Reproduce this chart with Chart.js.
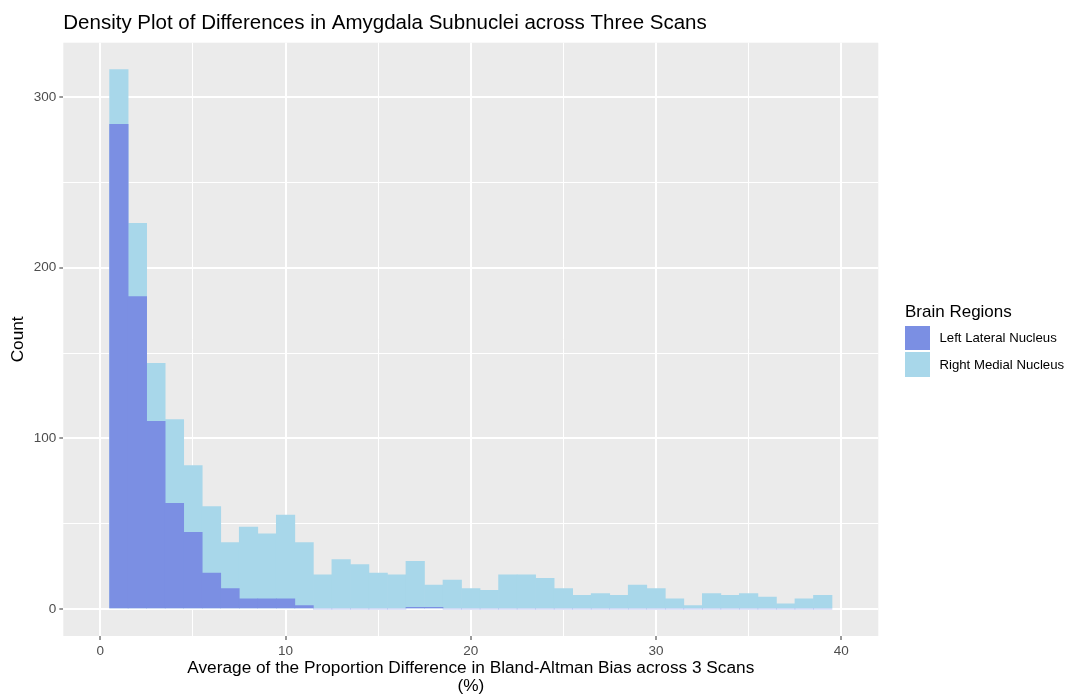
<!DOCTYPE html>
<html lang="en">
<head>
    <meta charset="UTF-8">
    <title>Density Plot of Differences in Amygdala Subnuclei across Three Scans</title>
    <script src="https://cdn.jsdelivr.net/npm/chart.js"></script>
    <style>
        body {
            margin: 0;
            background: #ffffff;
            font-family: 'Liberation Sans', Arial, Helvetica, sans-serif;
        }
        #wrap {
            position: relative;
            width: 1069px;
            height: 695px;
        }
        #legend {
            position: absolute;
            left: 905px;
            top: 301.5px;
            color: #000000;
        }
        #legend .title {
            font-size: 17px;
            line-height: 20px;
            height: 20px;
            margin-bottom: 4.2px;
        }
        #legend .item {
            display: flex;
            align-items: center;
            height: 24.5px;
            margin-bottom: 2px;
            font-size: 13.2px;
        }
        #legend .swatch {
            width: 24.5px;
            height: 24.5px;
            margin-right: 10px;
        }
    </style>
</head>
<body>
    <div id="wrap">
        <canvas id="histChart" width="1069" height="695"></canvas>
        <div id="legend"></div>
    </div>

    <script>
        // bins are 1 unit wide, centred on whole numbers
        const binCenters = [1, 2, 3, 4, 5, 6, 7, 8, 9, 10, 11, 12, 13, 14, 15, 16, 17, 18, 19, 20,
                            21, 22, 23, 24, 25, 26, 27, 28, 29, 30, 31, 32, 33, 34, 35, 36, 37, 38, 39];
        const leftLateral = [284, 183, 110, 62, 45, 21, 12, 6, 6, 6, 2, 0, 0, 0, 0, 0, 1, 1, 0, 0,
                             0, 0, 0, 0, 0, 0, 0, 0, 0, 0, 0, 0, 0, 0, 0, 0, 0, 0, 0];
        const rightMedial = [316, 226, 144, 111, 84, 60, 39, 48, 44, 55, 39, 20, 29, 26, 21, 20, 28, 14, 17, 12,
                             11, 20, 20, 18, 12, 8, 9, 8, 14, 12, 6, 2, 9, 8, 9, 7, 3, 6, 8];
        const seriesNames = ['Left Lateral Nucleus', 'Right Medial Nucleus'];
        const seriesColors = ['#7b8fe3', '#a8d7ea'];
        // grid lines (major + minor) and the labelled majors
        const xGrid = [0, 5, 10, 15, 20, 25, 30, 35, 40];
        const xTickLabels = [0, 10, 20, 30, 40];
        const yGrid = [0, 50, 100, 150, 200, 250, 300];
        const yTickLabels = [0, 100, 200, 300];

        const FONT = "'Liberation Sans', Arial, Helvetica, sans-serif";
        const toPoints = values => binCenters.map((x, i) => ({ x: x, y: values[i] }));

        // grey panel behind the grid, ggplot style
        const panelBg = {
            id: 'panelBg',
            beforeDraw(chart) {
                const { ctx, chartArea: a } = chart;
                ctx.save();
                ctx.fillStyle = '#ebebeb';
                ctx.fillRect(a.left, a.top, a.right - a.left, a.bottom - a.top);
                ctx.restore();
            }
        };

        function gridFor(majors) {
            const isMajor = c => c.tick && majors.includes(c.tick.value);
            return {
                offset: false,
                color: '#ffffff',
                lineWidth: c => isMajor(c) ? 2 : 1,
                tickColor: c => isMajor(c) ? '#333333' : 'rgba(0,0,0,0)',
                tickLength: 4,
                tickWidth: 1
            };
        }

        const ctx = document.getElementById('histChart').getContext('2d');
        const histChart = new Chart(ctx, {
            type: 'bar',
            data: {
                datasets: [{
                    label: seriesNames[0],
                    data: toPoints(leftLateral),
                    backgroundColor: seriesColors[0],
                    grouped: false,
                    barPercentage: 1,
                    categoryPercentage: 1,
                    borderWidth: 0
                },
                {
                    label: seriesNames[1],
                    data: toPoints(rightMedial),
                    backgroundColor: seriesColors[1],
                    grouped: false,
                    barPercentage: 1,
                    categoryPercentage: 1,
                    borderWidth: 0
                }]
            },
            options: {
                responsive: false,
                animation: false,
                devicePixelRatio: 1,
                layout: { padding: { left: 0, right: 190.7, top: 0, bottom: 0 } },
                plugins: {
                    legend: { display: false },
                    tooltip: { enabled: false },
                    title: {
                        display: true,
                        text: 'Density Plot of Differences in Amygdala Subnuclei across Three Scans',
                        align: 'start',
                        fullSize: false,
                        color: '#000000',
                        font: { family: FONT, size: 20.5, weight: 'normal' },
                        padding: { top: 10.7, bottom: 7.4 }
                    }
                },
                scales: {
                    x: {
                        type: 'linear',
                        min: -2,
                        max: 42,
                        offset: false,
                        border: { display: false },
                        grid: gridFor(xTickLabels),
                        afterBuildTicks: scale => { scale.ticks = xGrid.map(v => ({ value: v })); },
                        ticks: {
                            maxRotation: 0,
                            autoSkip: false,
                            padding: 3,
                            color: '#4d4d4d',
                            font: { family: FONT, size: 13.5 },
                            callback: v => xTickLabels.includes(v) ? String(v) : ''
                        },
                        title: {
                            display: true,
                            text: ['Average of the Proportion Difference in Bland-Altman Bias across 3 Scans', '(%)'],
                            color: '#000000',
                            font: { family: FONT, size: 17.25, lineHeight: 1.05 },
                            padding: { top: 0, bottom: 0 }
                        },
                        afterFit(scale) { scale.height = 59; }
                    },
                    y: {
                        min: -15.8,
                        max: 331.8,
                        border: { display: false },
                        grid: gridFor(yTickLabels),
                        afterBuildTicks: scale => { scale.ticks = yGrid.map(v => ({ value: v })); },
                        ticks: {
                            padding: 3,
                            color: '#4d4d4d',
                            font: { family: FONT, size: 13.5 },
                            callback: v => yTickLabels.includes(v) ? String(v) : ''
                        },
                        title: {
                            display: true,
                            text: 'Count',
                            color: '#000000',
                            font: { family: FONT, size: 17.25 },
                            padding: { top: 8.3, bottom: 0 }
                        },
                        afterFit(scale) { scale.width = 63.3; }
                    }
                }
            },
            plugins: [panelBg]
        });

        // legend on the right, built from the datasets
        const legend = document.getElementById('legend');
        legend.innerHTML = '<div class="title">Brain Regions</div>' +
            histChart.data.datasets.map(ds =>
                '<div class="item"><span class="swatch" style="background:' + ds.backgroundColor + '"></span>' +
                ds.label + '</div>').join('');
    </script>
</body>
</html>
